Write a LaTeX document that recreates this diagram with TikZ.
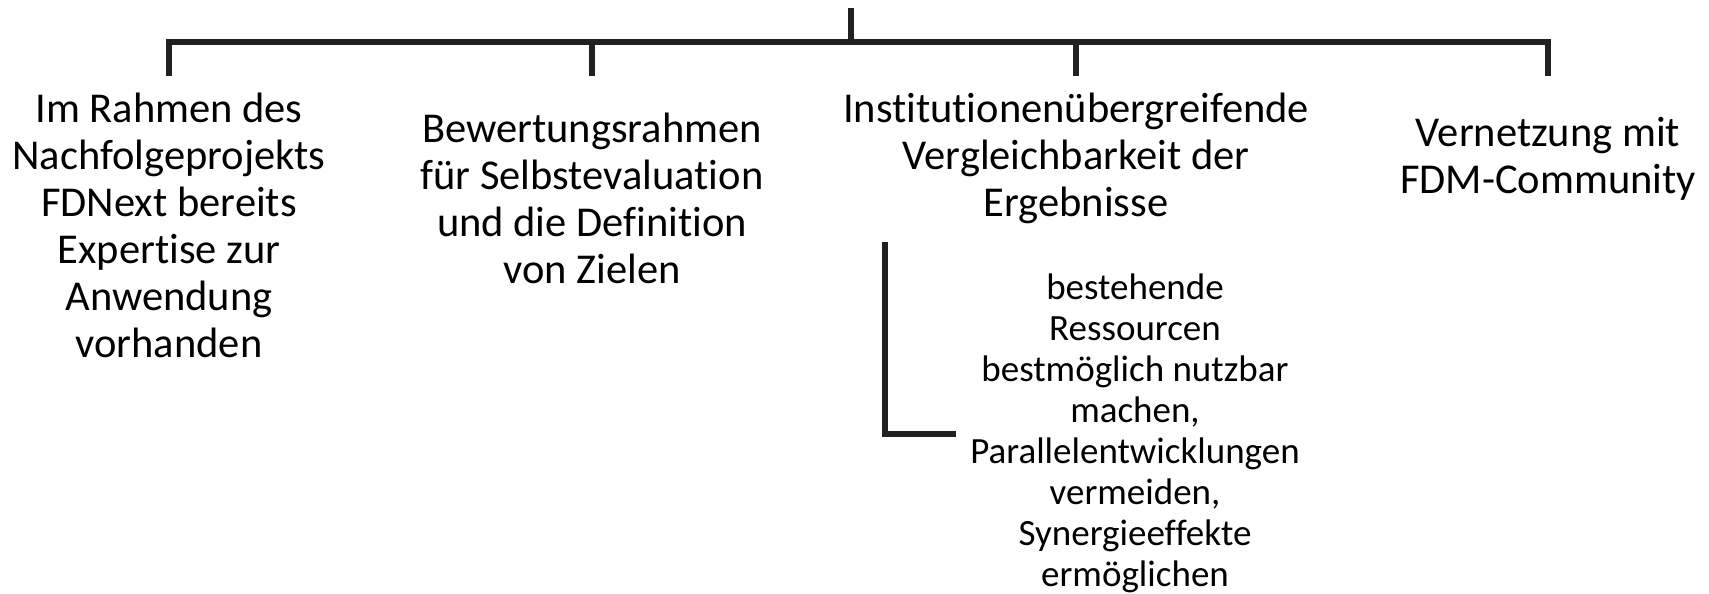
\documentclass[tikz,border=0pt]{standalone}
\usepackage{fontspec}
\setmainfont{Carlito}[Ligatures=NoCommon]
\definecolor{linec}{RGB}{33,33,33}
\begin{document}
\begin{tikzpicture}[x=1pt,y=-1pt,
  conn/.style={draw=linec,line width=5.7pt},
  bigtext/.style={align=center,inner sep=0pt,font=\fontsize{42.5}{47}\selectfont},
  smalltext/.style={align=center,inner sep=0pt,font=\fontsize{37}{41}\selectfont}]
\useasboundingbox (0,0) rectangle (1709,594);
\coordinate (root) at (851,8);
\coordinate (bar) at (851,42);
\coordinate (d1) at (169,76);
\coordinate (d2) at (592,76);
\coordinate (d3) at (1076,76);
\coordinate (d4) at (1548,76);
\node[bigtext] (t1) at (169,225) {Im Rahmen des\\Nachfolgeprojekts\\FDNext bereits\\Expertise zur\\Anwendung\\vorhanden};
\node[bigtext] (t2) at (592,198) {Bewertungsrahmen\\für Selbstevaluation\\und die Definition\\von Zielen};
\node[bigtext] (t3) at (1076,158) {Institutionenübergreifende\\Vergleichbarkeit der\\Ergebnisse};
\node[bigtext] (t4) at (1548,159) {Vernetzung mit\\FDM-Community};
\node[smalltext] (t5) at (1135,433) {bestehende\\Ressourcen\\bestmöglich nutzbar\\machen,\\Parallelentwicklungen\\vermeiden,\\Synergieeffekte\\ermöglichen};
\draw[conn] (root) -- (bar);
\draw[conn] (d1) -- (d1 |- bar) -- (d4 |- bar) -- (d4);
\draw[conn] (d2 |- bar) -- (d2);
\draw[conn] (d3 |- bar) -- (d3);
\coordinate (b1) at (885,242);
\coordinate (b2) at (885,434);
\coordinate (b3) at (956,434);
\draw[conn] (b1) -- (b2) -- (b3);
\end{tikzpicture}
\end{document}
